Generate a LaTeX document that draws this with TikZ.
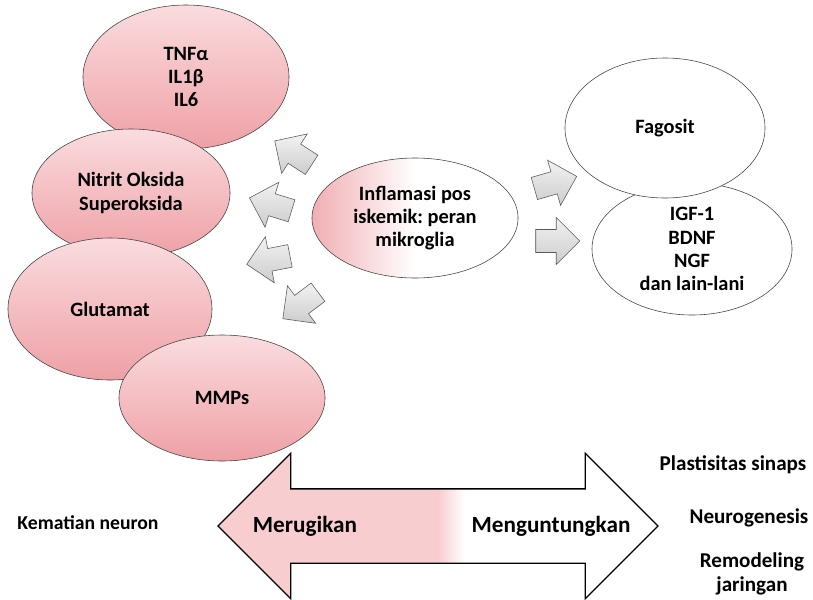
\documentclass[tikz,border=0pt]{standalone}
\usepackage{fontspec}
\setmainfont{Carlito}
\frenchspacing
\usetikzlibrary{shapes.geometric,shapes.arrows}
\definecolor{rosaatas}{RGB}{250,220,222}
\definecolor{rosabawah}{RGB}{238,160,166}
\definecolor{rosapanah}{RGB}{248,205,208}
\pgfdeclarehorizontalshading{panahgrad}{100bp}{color(0bp)=(rosapanah); color(50bp)=(rosapanah); color(53bp)=(white); color(100bp)=(white)}
\pgfdeclarehorizontalshading{tengahgrad}{100bp}{color(0bp)=(rosabawah!85); color(25bp)=(rosabawah!85); color(50bp)=(white); color(100bp)=(white)}

\begin{document}
\begin{tikzpicture}[x=0.025cm, y=-0.025cm,
    teks/.style={font=\fontsize{14.5}{16.5}\selectfont\bfseries, align=center},
    buruk/.style={ellipse, draw=black!75, top color=rosaatas, bottom color=rosabawah, inner sep=0pt, teks},
    baik/.style={ellipse, draw=black!75, fill=white, inner sep=0pt, teks},
    panah/.style={single arrow, draw=black!65, top color=gray!10, bottom color=gray!40, minimum height=1.1cm, inner xsep=0pt, inner ysep=0.28cm, single arrow head extend=0.3cm},
    ket/.style={font=\fontsize{15}{18}\selectfont\bfseries, align=center}]
    \useasboundingbox (0,0) rectangle (813,599);

    % sisi merugikan
    \node (tnf) [buruk, minimum width=5.15cm, minimum height=3.6cm] at (186,77) {TNFα\\IL1β\\IL6};
    \node (nitrit) [buruk, minimum width=4.95cm, minimum height=3.2cm] at (131,193) {Nitrit Oksida\\Superoksida};
    \node (glutamat) [buruk, minimum width=5.1cm, minimum height=3.55cm] at (110,309) {Glutamat};
    \node (mmp) [buruk, minimum width=5.15cm, minimum height=3.15cm] at (222,398) {MMPs};

    % mikroglia
    \node (mikroglia) [ellipse, draw=black!75, shading=tengahgrad, inner sep=0pt, teks, minimum width=5.15cm, minimum height=3cm] at (415,218) {Inflamasi pos\\iskemik: peran\\mikroglia};

    % sisi menguntungkan
    \node (igf) [baik, minimum width=5cm, minimum height=3.3cm] at (692,249) {IGF-1\\BDNF\\NGF\\dan lain-lani};
    \node (fagosit) [baik, minimum width=5cm, minimum height=3.5cm] at (665,128) {Fagosit};

    \node (ar1) [panah, rotate=147] at (298,156) {};
    \node (ar2) [panah, rotate=163] at (276,206) {};
    \node (ar3) [panah, rotate=191] at (274,259) {};
    \node (ar4) [panah, rotate=217] at (305,302) {};
    \node (ar5) [panah, rotate=16] at (550,184) {};
    \node (ar6) [panah, rotate=0] at (552,241) {};

    % panah bawah
    \node (timbangan) [double arrow, draw=black, line width=0.9pt, shading=panahgrad, minimum height=11cm, inner xsep=0pt, inner ysep=0.9125cm, double arrow head extend=0.89cm] at (438,526) {};
    \node (rugi) [font=\fontsize{16.5}{19}\selectfont\bfseries] at (305,526) {Merugikan};
    \node (untung) [font=\fontsize{16.5}{19}\selectfont\bfseries] at (551,526) {Menguntungkan};

    \node (kematian) [ket, font=\fontsize{14}{16}\selectfont\bfseries] at (88,523) {Kematian neuron};
    \node (plastis) [ket] at (733,465) {Plastisitas sinaps};
    \node (neuro) [ket] at (749,518) {Neurogenesis};
    \node (remodel) [ket, font=\fontsize{15}{17.5}\selectfont\bfseries] at (752,574) {Remodeling\\jaringan};
\end{tikzpicture}
\end{document}
